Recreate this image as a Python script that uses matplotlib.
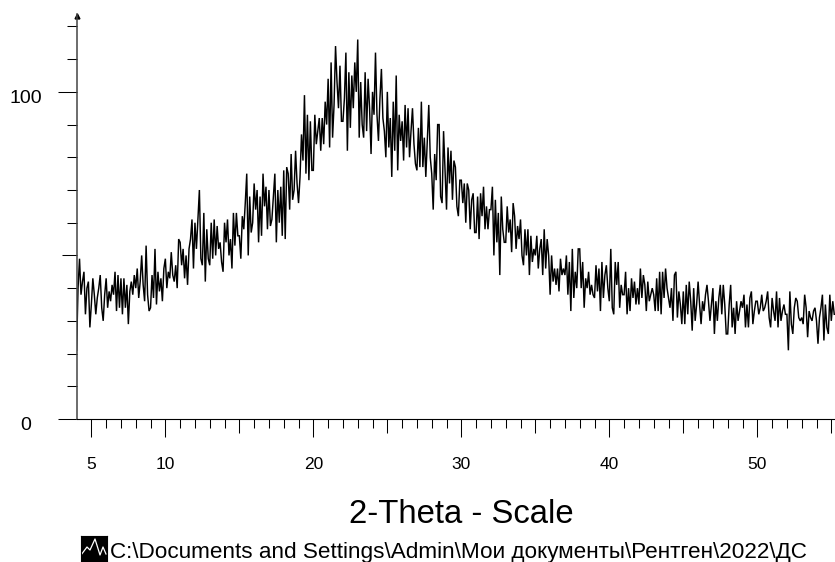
import numpy as np
import matplotlib
matplotlib.use("Agg")
import matplotlib.pyplot as plt

plt.rcParams["font.family"] = ["Liberation Sans", "DejaVu Sans"]

W, H = 835, 562

# counts, one row per degree (0.1 deg step from 4.0)
intensity = [
    21, 40, 49, 38, 42, 45, 32, 40, 42, 28,
    35, 43, 38, 32, 37, 40, 44, 34, 30, 38,
    43, 34, 39, 36, 41, 38, 45, 33, 44, 34,
    43, 32, 43, 34, 41, 29, 39, 42, 38, 44,
    40, 46, 37, 42, 50, 41, 36, 53, 38, 33,
    34, 44, 37, 52, 35, 45, 39, 43, 36, 46,
    49, 40, 45, 43, 51, 44, 42, 47, 40, 55,
    54, 47, 52, 43, 50, 41, 52, 55, 61, 46,
    60, 52, 61, 70, 49, 47, 63, 42, 58, 49,
    47, 60, 49, 61, 50, 59, 52, 54, 48, 45,
    60, 54, 61, 50, 55, 46, 63, 53, 63, 56,
    56, 49, 62, 58, 66, 75, 50, 68, 57, 60,
    72, 64, 70, 54, 68, 56, 75, 65, 71, 58,
    70, 59, 61, 68, 75, 54, 70, 60, 71, 56,
    76, 55, 77, 75, 64, 81, 67, 70, 82, 72,
    66, 74, 87, 79, 99, 75, 93, 73, 91, 76,
    76, 93, 84, 88, 92, 82, 92, 84, 97, 90,
    104, 83, 109, 86, 96, 114, 103, 95, 108, 91,
    91, 98, 112, 82, 106, 89, 105, 95, 109, 100,
    116, 86, 103, 90, 86, 106, 88, 104, 95, 81,
    100, 93, 112, 93, 85, 98, 107, 92, 88, 80,
    100, 83, 92, 74, 97, 82, 105, 76, 93, 85,
    91, 79, 96, 83, 95, 80, 88, 95, 84, 78,
    76, 89, 77, 97, 77, 86, 74, 85, 96, 80,
    75, 64, 81, 73, 90, 90, 68, 66, 88, 76,
    64, 83, 72, 82, 67, 79, 77, 65, 62, 73,
    73, 66, 72, 60, 72, 70, 58, 67, 69, 57,
    57, 68, 55, 69, 62, 71, 58, 65, 58, 64,
    64, 71, 50, 67, 54, 63, 44, 68, 58, 54,
    54, 65, 57, 61, 51, 66, 62, 52, 59, 55,
    61, 50, 47, 58, 50, 58, 44, 56, 48, 52,
    50, 56, 46, 52, 55, 44, 58, 46, 55, 50,
    38, 50, 42, 46, 41, 46, 39, 49, 44, 46,
    44, 50, 38, 48, 33, 52, 37, 45, 40, 52,
    52, 40, 48, 34, 43, 40, 45, 38, 41, 38,
    37, 47, 39, 46, 33, 48, 37, 44, 47, 40,
    36, 52, 34, 32, 48, 41, 48, 34, 41, 38,
    38, 45, 32, 40, 33, 43, 37, 42, 35, 40,
    35, 46, 37, 44, 41, 33, 42, 36, 38, 40,
    38, 33, 43, 33, 45, 32, 45, 37, 46, 40,
    37, 34, 40, 30, 44, 45, 31, 39, 35, 29,
    39, 29, 41, 32, 42, 36, 27, 40, 30, 35,
    42, 35, 29, 36, 33, 38, 41, 36, 30, 35,
    40, 26, 36, 30, 37, 41, 32, 41, 35, 26,
    26, 35, 41, 28, 34, 26, 36, 30, 33, 36,
    34, 38, 28, 35, 28, 37, 39, 29, 33, 36,
    36, 32, 34, 38, 33, 34, 36, 39, 31, 28,
    37, 33, 30, 39, 28, 37, 30, 33, 35, 32,
    32, 21, 39, 29, 26, 34, 37, 36, 31, 30,
    31, 29, 38, 34, 25, 33, 31, 30, 33, 34,
    30, 23, 31, 34, 38, 24, 35, 28, 26, 38,
    30, 36, 32,
]
two_theta = 4.0 + 0.1 * np.arange(len(intensity))

x_labelled = [5, 10, 20, 30, 40, 50]
x_fives = [15, 25, 35, 45, 55]
x_minor = [v for v in range(5, 56) if v % 5 != 0]
y_labelled = [0, 100]
y_mid = [50]
y_minor = [10, 20, 30, 40, 60, 70, 80, 90, 110, 120]

x_title = "2-Theta - Scale"
footer = "C:\\Documents and Settings\\Admin\\Мои документы\\Рентген\\2022\\ДС"
icon_x = [0, 6, 9, 14, 19, 22, 25]
icon_y = [7, 15, 12, 23, 7, 15, 8]

PX = 0.72  # points per pixel at dpi 100

fig = plt.figure(figsize=(W / 100, H / 100), dpi=100)
ax = fig.add_axes([77 / W, (H - 419) / H, (W - 77) / W, 405 / H])
ax.plot(two_theta, intensity, color="black", lw=1.05, solid_joinstyle="miter")
ax.set_xlim(4.03, 55.25)
ax.set_ylim(0, 123.8)

for side in ("top", "right"):
    ax.spines[side].set_visible(False)
ax.spines["left"].set_color("#444444")
ax.spines["left"].set_linewidth(1.1)
ax.spines["bottom"].set_linewidth(0.8)

# y ticks: 0 and 100 long, 50 medium, others short
ax.set_yticks(y_labelled + y_mid)
ax.set_yticklabels([])
ax.set_yticks(y_minor, minor=True)
ax.tick_params(axis="y", which="major", length=19 * PX, width=0.75)
ax.tick_params(axis="y", which="minor", length=10 * PX, width=0.75)
for tick, val in zip(ax.yaxis.get_major_ticks(), y_labelled + y_mid):
    if val in y_mid:
        tick.tick1line.set_markersize(15 * PX)

# x ticks: labelled long, odd fives medium, others short
ax.set_xticks(x_labelled + x_fives)
ax.set_xticklabels([])
ax.set_xticks(x_minor, minor=True)
ax.tick_params(axis="x", which="major", length=18 * PX, width=0.75)
ax.tick_params(axis="x", which="minor", length=9 * PX, width=0.75)
for tick, val in zip(ax.xaxis.get_major_ticks(), x_labelled + x_fives):
    if val in x_fives:
        tick.tick1line.set_markersize(14 * PX)

for val in y_labelled:
    ax.annotate(str(val), xy=(0, val), xycoords=ax.get_yaxis_transform(),
                xytext=(26 - 77, -11), textcoords="offset pixels",
                ha="center", va="baseline", fontsize=14)
for val in x_labelled:
    ax.annotate(str(val), xy=(val, 0), xycoords=ax.get_xaxis_transform(),
                xytext=(0, -50), textcoords="offset pixels",
                ha="center", va="baseline", fontsize=12.5)

# little arrow head on top of the y axis
ax.plot([0], [1 - 2 / 405], marker="^", ms=3.5, color="black",
        transform=ax.transAxes, clip_on=False)

fig.text(461 / W, 1 - 523 / H, x_title, ha="center", va="baseline", fontsize=23.7)
fig.text(110 / W, 1 - 558 / H, footer, ha="left", va="baseline", fontsize=16.2)

# file icon in front of the path
icon = fig.add_axes([81 / W, 0, 26 / W, 26 / H])
icon.set_facecolor("black")
icon.plot(icon_x, icon_y, color="white", lw=0.9)
icon.set_xlim(0, 26)
icon.set_ylim(0, 26)
icon.set_xticks([])
icon.set_yticks([])

fig.savefig("out.png", dpi=100)
plt.close(fig)
